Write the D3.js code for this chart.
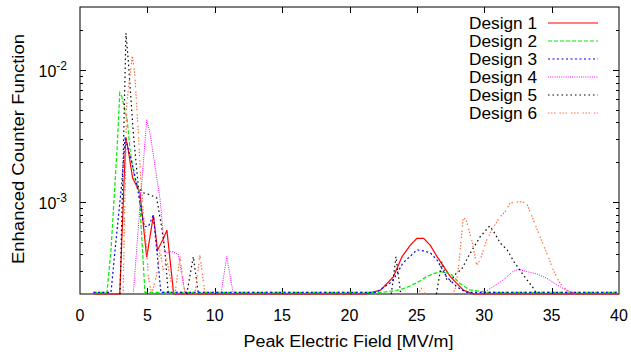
<!DOCTYPE html>
<html>
<head>
<meta charset="utf-8">
<script src="https://cdn.jsdelivr.net/npm/d3@7"></script>
<style>
  html, body { margin: 0; padding: 0; background: #fff; }
  svg { display: block; font-family: "Liberation Sans", Arial, sans-serif; }
</style>
</head>
<body>
<svg id="chart" width="631" height="352"></svg>
<script>
// ---- Data (0 = below the plotted range) ----
const seriesNames = ["Design 1", "Design 2", "Design 3", "Design 4", "Design 5", "Design 6"];
const xTicks = [0, 5, 10, 15, 20, 25, 30, 35, 40];
const yMajorTicks = [1e-3, 1e-2];
const yMajorLabels = ["-3", "-2"];

const design1 = [[1,2e-4],[2.95,2e-4],[3.4,3.1e-3],[3.58,2.47e-3],[3.9,1.52e-3],[4.25,1.29e-3],[4.45,1.17e-3],[4.95,3.8e-4],[5.45,7.9e-4],[5.75,4.3e-4],[6.2,5.3e-4],[6.45,6.1e-4],[6.95,2e-4],
  [21.2,2e-4],[22.3,2.14e-4],[23.25,2.7e-4],[23.9,3.84e-4],[24.5,4.67e-4],[25.0,5.28e-4],[25.5,5.28e-4],[26.0,4.67e-4],[26.5,3.84e-4],[27.5,2.7e-4],[28.45,2.14e-4],[29.2,2e-4],[40,2e-4]];
const design2 = [[1,2.06e-4],[2.0,2.06e-4],[2.3,4.3e-4],[2.75,2.5e-3],[2.95,6.7e-3],[3.1,6.3e-3],[3.5,4.2e-3],[3.73,2.4e-3],[4.03,1.55e-3],[4.38,1.23e-3],[4.82,2.06e-4],
  [22.5,2.06e-4],[23.75,2.15e-4],[24.5,2.3e-4],[25.2,2.5e-4],[25.7,2.7e-4],[26.2,2.85e-4],[26.8,2.95e-4],[27.5,2.85e-4],[28.2,2.4e-4],[28.9,2.15e-4],[30.2,2.06e-4],[40,2.06e-4]];
const design3 = [[1,2.06e-4],[2.3,2.06e-4],[2.6,4.3e-4],[3.1,1.38e-3],[3.35,3.1e-3],[3.96,1.79e-3],[4.33,1.17e-3],[4.58,8.2e-4],[4.77,6.5e-4],[5.07,6.5e-4],[5.44,7.9e-4],[5.85,3e-4],[6.0,2.06e-4],
  [22.0,2.06e-4],[23.2,2.5e-4],[23.95,3.42e-4],[25.0,4.32e-4],[25.5,4.25e-4],[26.0,4.1e-4],[26.5,3.62e-4],[27.2,2.7e-4],[28.0,2.25e-4],[28.7,2.06e-4],[40,2.06e-4]];
const design4 = [[3.95,0],[4.95,4.2e-3],[5.2,3.3e-3],[5.95,1.03e-3],[6.3,4.1e-4],[6.8,4.2e-4],[7.3,4.0e-4],[7.8,0],
  [10.46,0],[10.89,3.84e-4],[11.38,0],
  [29.8,0],[30.65,2.27e-4],[31.4,2.55e-4],[32.1,2.95e-4],[32.5,3.08e-4],[33.2,2.95e-4],[33.9,2.84e-4],[34.65,2.63e-4],[35.4,2.34e-4],[36.1,2.14e-4],[36.8,0]];
const design5 = [[2.97,0],[3.22,2.47e-3],[3.41,1.9e-2],[3.58,1.19e-2],[3.96,3.3e-3],[4.33,1.29e-3],[4.7,1.17e-3],[5.2,1.13e-3],[5.69,1.07e-3],[6.06,6.4e-4],[6.3,4.3e-4],[6.55,0],
  [7.92,0],[8.41,3.84e-4],[8.78,0],
  [23.1,0],[23.45,3.84e-4],[23.8,0],
  [26.45,0],[26.85,3.5e-4],[27.2,2.6e-4],[27.5,2.5e-4],[27.95,2.9e-4],[28.3,3.05e-4],[28.95,4.07e-4],[29.7,5.44e-4],[30.4,6.56e-4],[30.7,5.95e-4],[31.2,4.85e-4],[31.7,4.32e-4],[32.2,3.52e-4],[32.9,2.79e-4],[33.65,2.21e-4],[33.9,0]];
const design6 = [[3.2,0],[3.46,5.4e-3],[3.88,1.3e-2],[4.08,8.9e-3],[4.33,3.31e-3],[4.5,1.55e-3],[4.7,8.2e-4],[4.95,4.32e-4],[5.07,2.7e-4],[5.32,0],[5.69,2.8e-4],[5.94,4.32e-4],[6.18,3.0e-4],[6.43,3.73e-4],[6.7,2.6e-4],[6.95,0],
  [7.05,0],[7.42,3.84e-4],[7.79,0],
  [8.53,0],[8.9,3.93e-4],[9.28,0],
  [25.05,0],[25.35,2.2e-4],[25.65,0],
  [27.6,0],[27.83,2.14e-4],[28.07,3.04e-4],[28.33,5.77e-4],[28.45,7.7e-4],[28.7,7.06e-4],[29.07,5.13e-4],[29.44,3.32e-4],[29.69,3.62e-4],[30.18,5.13e-4],[30.55,6.1e-4],[31.17,7.7e-4],[31.54,8.4e-4],[31.91,9.75e-4],[32.28,1.0e-3],[32.78,1.0e-3],[33.15,9.75e-4],[33.64,7.3e-4],[34.14,5.43e-4],[34.75,3.84e-4],[35.12,3.04e-4],[35.62,2.41e-4],[36.12,2.14e-4],[36.74,0]];

const allSeries = [design1, design2, design3, design4, design5, design6];
const colors = ["#ff0000", "#00ee00", "#0000ff", "#ff00ff", "#000000", "#ff7040"];
const dashes = [null, "4,2", "2,2.5", "1,1.2", "1.5,3", "1.5,1.5,1.5,1.5,1.5,4"];
const widths = [1.2, 1.2, 1.2, 1, 1.2, 1.2];

// ---- Layout ----
const svg = d3.select("#chart");
const L = 80, R = 619, T = 7, B = 294;
const x = d3.scaleLinear().domain([0, 40]).range([L, R]);
const y = d3.scaleLog().domain([2e-4, 3e-2]).range([B, T]);
const yMin = y.domain()[0];

// frame
svg.append("rect").attr("x", L).attr("y", T).attr("width", R - L).attr("height", B - T)
  .attr("fill", "none").attr("stroke", "#000").attr("stroke-width", 1);

// x ticks (bottom & top)
const gx = svg.append("g");
xTicks.forEach(v => {
  const px = Math.round(x(v)) + 0.5;
  if (v > 0 && v < 40) {
    gx.append("line").attr("x1", px).attr("x2", px).attr("y1", B).attr("y2", B - 6).attr("stroke", "#000");
    gx.append("line").attr("x1", px).attr("x2", px).attr("y1", T).attr("y2", T + 6).attr("stroke", "#000");
  }
  gx.append("text").attr("x", x(v)).attr("y", 321).attr("text-anchor", "middle")
    .attr("font-size", 16).text(v);
});

// y ticks (log minor + major), left & right
const gy = svg.append("g");
const minorVals = [];
[1e-4, 1e-3, 1e-2].forEach(d => { for (let k = 2; k <= 9; k++) { const v = k * d; if (v > yMin * 1.001 && v < 3e-2 * 0.999) minorVals.push(v); } });
minorVals.forEach(v => {
  const py = Math.round(y(v)) + 0.5;
  gy.append("line").attr("x1", L).attr("x2", L + 3).attr("y1", py).attr("y2", py).attr("stroke", "#000");
  gy.append("line").attr("x1", R).attr("x2", R - 3).attr("y1", py).attr("y2", py).attr("stroke", "#000");
});
yMajorTicks.forEach((v, i) => {
  const py = Math.round(y(v)) + 0.5;
  gy.append("line").attr("x1", L).attr("x2", L + 6).attr("y1", py).attr("y2", py).attr("stroke", "#000");
  gy.append("line").attr("x1", R).attr("x2", R - 6).attr("y1", py).attr("y2", py).attr("stroke", "#000");
  const t = gy.append("text").attr("x", 67).attr("y", y(v) + 7).attr("text-anchor", "end").attr("font-size", 16);
  t.append("tspan").text("10");
  t.append("tspan").attr("dy", -7).attr("font-size", 12).text(yMajorLabels[i]);
});

// axis labels
svg.append("text").attr("x", 348.5).attr("y", 347).attr("text-anchor", "middle")
  .attr("font-size", 16).attr("textLength", 210).attr("lengthAdjust", "spacingAndGlyphs")
  .text("Peak Electric Field [MV/m]");
svg.append("text").attr("transform", "translate(24,149) rotate(-90)").attr("text-anchor", "middle")
  .attr("font-size", 16).attr("textLength", 230).attr("lengthAdjust", "spacingAndGlyphs")
  .text("Enhanced Counter Function");

// series
svg.append("clipPath").attr("id", "clip").append("rect")
  .attr("x", L).attr("y", T - 1).attr("width", R - L).attr("height", B - T + 2);
const line = d3.line().x(d => x(d[0])).y(d => y(d[1] > 0 ? d[1] : yMin));
const gl = svg.append("g").attr("clip-path", "url(#clip)");
allSeries.forEach((data, si) => {
  // split into runs: keep segments where at least one endpoint is in range
  const runs = [];
  let cur = [];
  for (let i = 0; i < data.length - 1; i++) {
    if (data[i][1] > 0 || data[i + 1][1] > 0) {
      if (cur.length === 0) cur.push(data[i]);
      cur.push(data[i + 1]);
    } else if (cur.length) { runs.push(cur); cur = []; }
  }
  if (cur.length) runs.push(cur);
  runs.forEach(run => {
    gl.append("path").attr("d", line(run)).attr("fill", "none")
      .attr("stroke", colors[si]).attr("stroke-width", widths[si])
      .attr("stroke-dasharray", dashes[si]);
  });
});

// legend
const lg = svg.append("g");
seriesNames.forEach((name, i) => {
  const cy = 23 + i * 18;
  lg.append("text").attr("x", 537).attr("y", cy + 6).attr("text-anchor", "end")
    .attr("font-size", 16).attr("textLength", 68).attr("lengthAdjust", "spacingAndGlyphs").text(name);
  lg.append("line").attr("x1", 548).attr("x2", 598).attr("y1", cy).attr("y2", cy)
    .attr("stroke", colors[i]).attr("stroke-width", widths[i]).attr("stroke-dasharray", dashes[i]);
});
</script>
</body>
</html>
